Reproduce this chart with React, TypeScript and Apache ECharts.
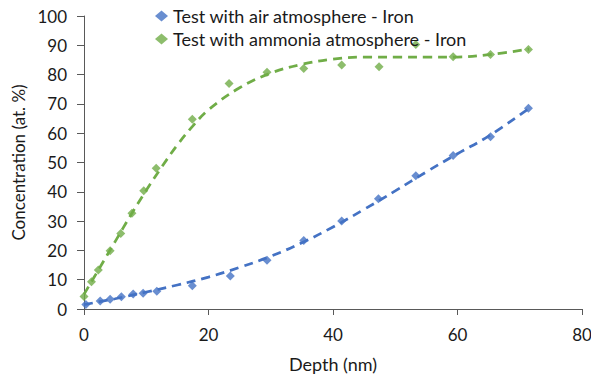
import React, { useEffect, useRef } from "react";
import * as echarts from "echarts";

const airX = [0.3, 2.6, 4.2, 6.0, 7.9, 9.5, 11.7, 17.4, 23.5, 29.4, 35.3, 41.4, 47.3, 53.3, 59.3, 65.3, 71.4];
const airY = [1.5, 2.7, 3.3, 4.2, 5.1, 5.4, 6.1, 7.9, 11.3, 16.6, 23.4, 30.0, 37.6, 45.5, 52.4, 58.8, 68.5];

const nh3X = [0.0, 1.2, 2.3, 4.2, 5.9, 7.7, 9.6, 11.6, 17.4, 23.3, 29.4, 35.3, 41.4, 47.4, 53.3, 59.3, 65.3, 71.4];
const nh3Y = [4.3, 9.3, 13.3, 19.9, 25.8, 32.7, 40.4, 48.0, 64.8, 77.0, 80.8, 82.1, 83.3, 82.7, 90.3, 86.1, 86.9, 88.6];

const airTrendX = [0, 5, 10, 15, 20, 25, 30, 35, 40, 45, 50, 55, 60, 65, 71.5];
const airTrendY = [1.5, 3.5, 5.8, 8.2, 10.9, 14.2, 18.0, 22.6, 28.0, 34.0, 40.3, 46.8, 53.0, 59.0, 68.5];

const nh3TrendX = [0, 2.5, 5, 7.5, 10, 12.5, 15, 17.5, 20, 25, 30, 35, 40, 45, 50, 55, 60, 65, 71.5];
const nh3TrendY = [5, 14, 23, 32, 40.5, 48.5, 56, 62.5, 68, 75.5, 80.5, 83.5, 85.3, 86, 86, 86, 86, 86.8, 88.7];

const seriesNames = ["Test with air atmosphere - Iron", "Test with ammonia atmosphere - Iron"];
const xTicks = { min: 0, max: 80, interval: 20 };
const yTicks = { min: 0, max: 100, interval: 10 };

const zip = (xs: number[], ys: number[]) => xs.map((x, i) => [x, ys[i]]);

export default function App() {
  const ref = useRef<HTMLDivElement>(null);
  useEffect(() => {
    if (!ref.current) return;
    const chart = echarts.init(ref.current, undefined, { renderer: "svg" });
    const font = "Lato, 'Noto Sans', sans-serif";
    const axisColor = "#595959";
    const textColor = "#1a1a1a";
    const blue = "#4472C4";
    const green = "#70AD47";
    chart.setOption({
      animation: false,
      backgroundColor: "#ffffff",
      textStyle: { fontFamily: font },
      grid: { left: 84, right: 9, top: 16, bottom: 65, containLabel: false, outerBoundsMode: "none" },
      legend: {
        data: seriesNames,
        orient: "vertical",
        left: 150,
        top: 2,
        itemGap: 5,
        itemWidth: 13,
        itemHeight: 11,
        textStyle: { fontSize: 18, color: textColor, fontFamily: font },
      },
      xAxis: {
        type: "value",
        min: xTicks.min,
        max: xTicks.max,
        interval: xTicks.interval,
        name: "Depth (nm)",
        nameLocation: "middle",
        nameGap: 46,
        nameTextStyle: { fontSize: 18, color: textColor, fontFamily: font },
        axisLine: { lineStyle: { color: axisColor, width: 1 } },
        axisTick: { show: true, inside: false, length: 6, lineStyle: { color: axisColor } },
        axisLabel: { fontSize: 17, color: textColor, margin: 17, fontFamily: font },
        splitLine: { show: false },
      },
      yAxis: {
        type: "value",
        min: yTicks.min,
        max: yTicks.max,
        interval: yTicks.interval,
        name: "Concentration (at. %)",
        nameLocation: "middle",
        nameGap: 51,
        nameRotate: 90,
        nameTextStyle: { fontSize: 17, color: textColor, fontFamily: font },
        axisLine: { show: true, lineStyle: { color: axisColor, width: 1 } },
        axisTick: { show: true, inside: false, length: 7, lineStyle: { color: axisColor } },
        axisLabel: { fontSize: 17, color: textColor, margin: 17, fontFamily: font },
        splitLine: { show: false },
      },
      series: [
        {
          name: "airTrend",
          type: "line",
          data: zip(airTrendX, airTrendY),
          smooth: 0.4,
          showSymbol: false,
          symbol: "none",
          lineStyle: { color: blue, width: 2.75, type: [9, 6] },
          z: 2,
          silent: true,
        },
        {
          name: "nh3Trend",
          type: "line",
          data: zip(nh3TrendX, nh3TrendY),
          smooth: 0.4,
          showSymbol: false,
          symbol: "none",
          lineStyle: { color: green, width: 2.75, type: [9, 6] },
          z: 2,
          silent: true,
        },
        {
          name: seriesNames[0],
          type: "scatter",
          data: zip(airX, airY),
          symbol: "diamond",
          symbolSize: 9,
          itemStyle: { color: blue },
          z: 3,
        },
        {
          name: seriesNames[1],
          type: "scatter",
          data: zip(nh3X, nh3Y),
          symbol: "diamond",
          symbolSize: 9,
          itemStyle: { color: green },
          z: 3,
        },
      ],
    });
    return () => chart.dispose();
  }, []);
  return <div ref={ref} style={{ width: 591, height: 374, position: "absolute", left: 0, top: 0 }} />;
}
